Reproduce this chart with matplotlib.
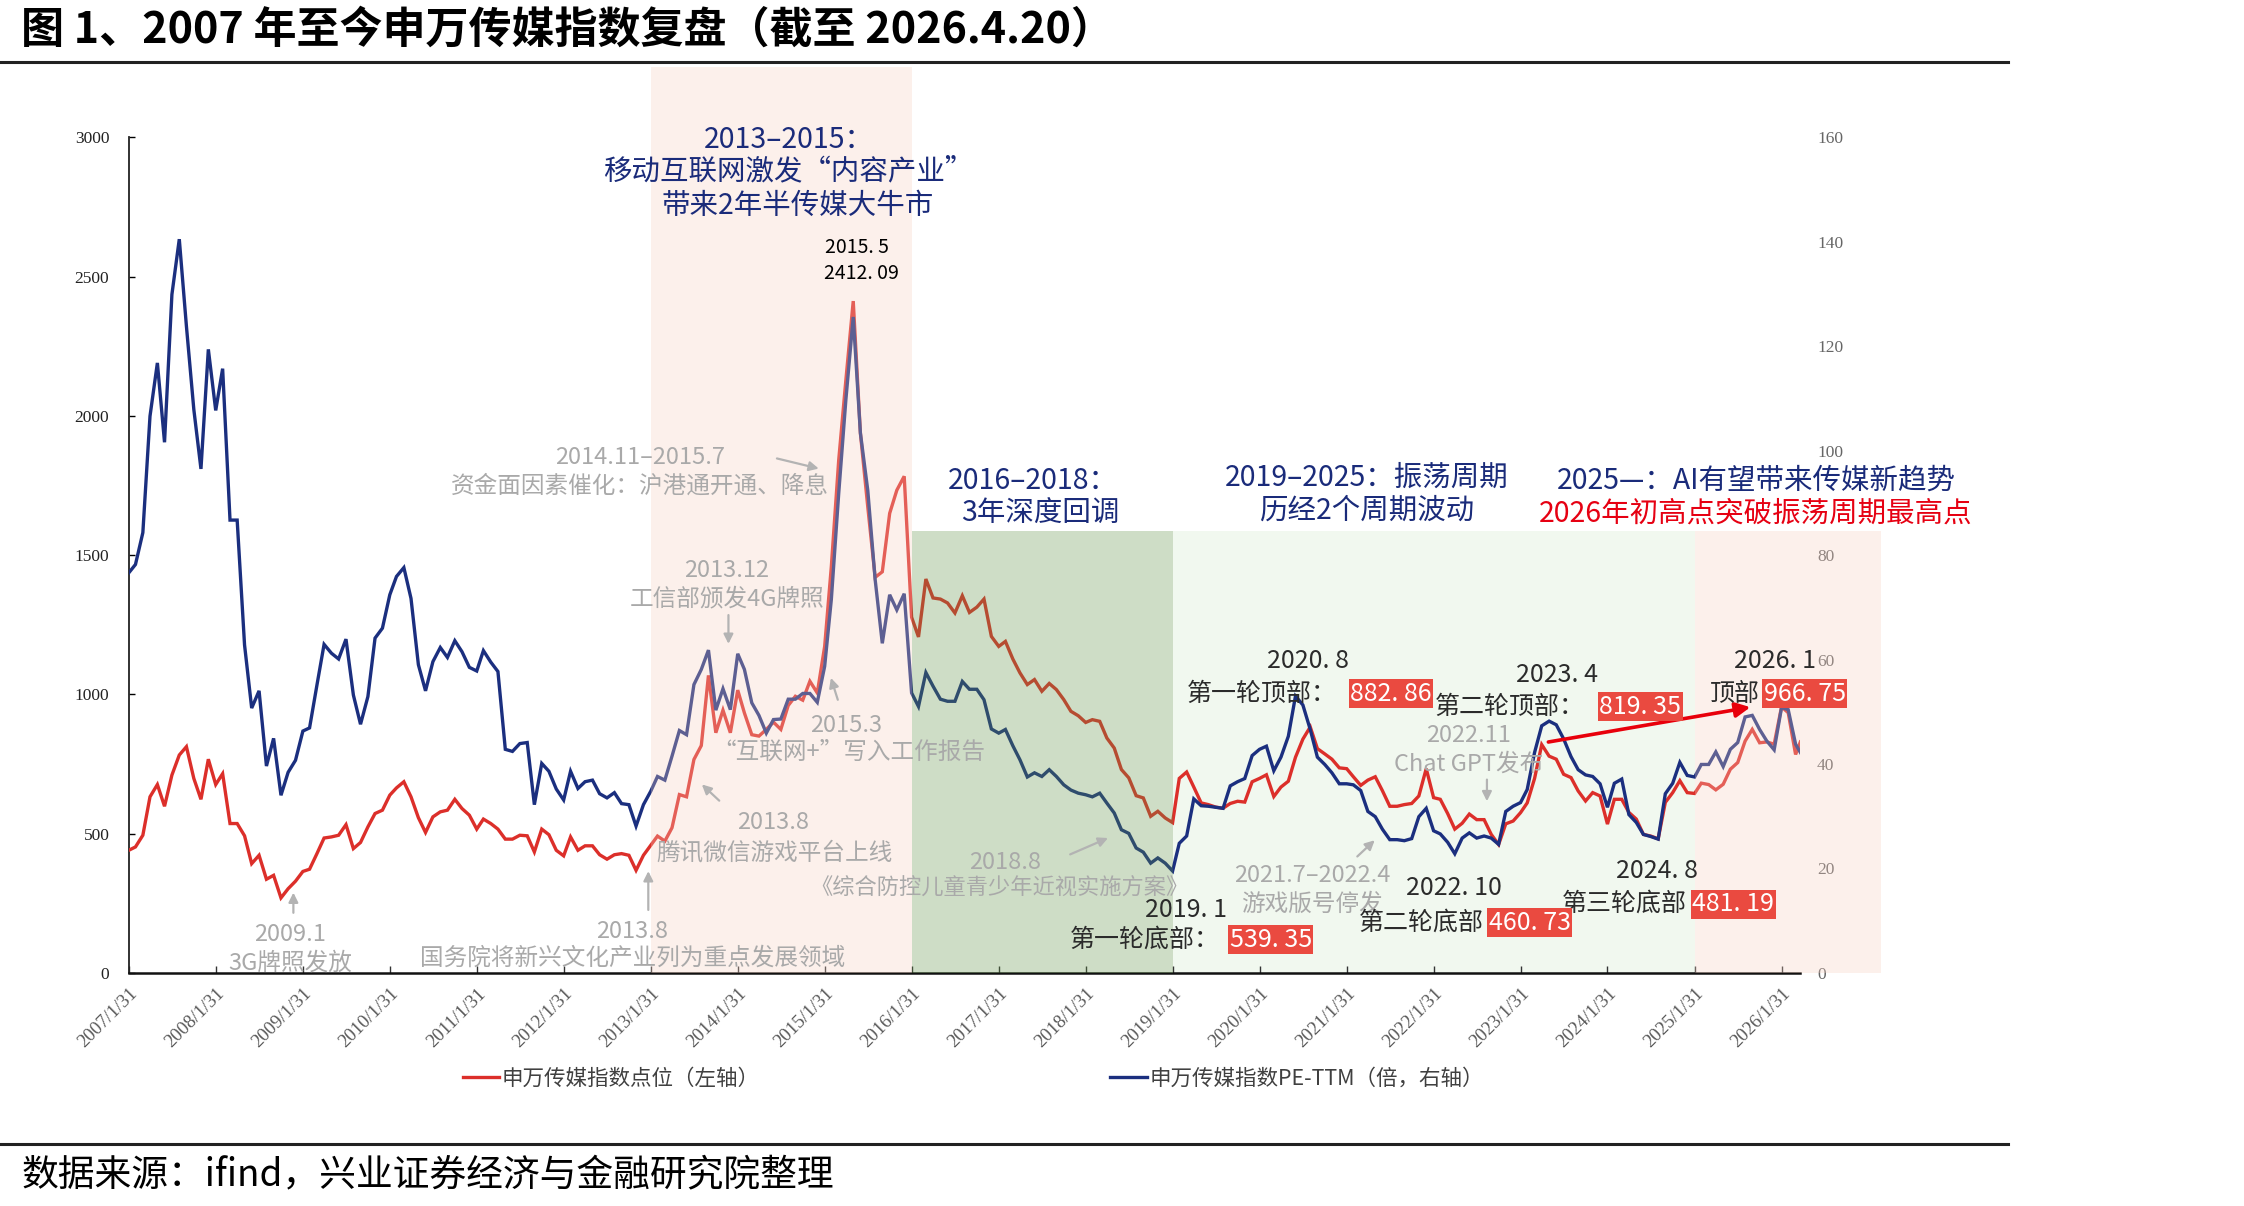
import matplotlib
matplotlib.use('Agg')
import matplotlib.pyplot as plt
import pandas as pd

plt.rcParams['font.family'] = ['Noto Sans CJK SC', 'DejaVu Sans']
plt.rcParams['axes.unicode_minus'] = False

# ---------------- data (monthly, 2007/1 - 2026/4) ----------------
index_points = [
    440, 452, 494, 632, 676, 598, 710, 782, 812, 698, 623, 767,
    676, 715, 536, 536, 492, 392, 422, 336, 350, 269, 302, 329,
    364, 372, 428, 484, 488, 494, 532, 446, 468, 524, 572, 584,
    638, 664, 686, 632, 557, 504, 560, 578, 584, 623, 590, 566,
    516, 552, 536, 516, 480, 480, 494, 492, 434, 516, 496, 440,
    420, 488, 440, 456, 456, 424, 408, 424, 428, 422, 368, 422,
    458, 491, 473, 521, 640, 632, 766, 816, 1068, 862, 943, 862,
    1015, 933, 855, 850, 874, 900, 874, 960, 993, 979, 1047, 1005,
    1172, 1459, 1841, 2128, 2412.09, 1938, 1673, 1420, 1440, 1650, 1733, 1783,
    1277, 1206, 1414, 1346, 1342, 1328, 1292, 1354, 1294, 1313, 1342, 1208,
    1172, 1190, 1127, 1077, 1035, 1053, 1011, 1039, 1017, 981, 939, 923,
    899, 909, 903, 843, 807, 730, 700, 636, 628, 562, 580, 556,
    539.35, 698, 721, 667, 610, 604, 595, 591, 608, 616, 613, 686,
    698, 711, 633, 667, 688, 774, 839, 882.86, 805, 786, 767, 736,
    733, 704, 673, 692, 704, 654, 598, 598, 604, 608, 635, 733,
    629, 623, 572, 516, 537, 570, 550, 550, 497, 460.73, 535, 545,
    575, 610, 698, 819.35, 778, 767, 713, 701, 653, 617, 647, 635,
    534, 623, 623, 576, 552, 497, 491, 481.19, 612, 647, 690, 647,
    644, 681, 676, 657, 677, 731, 755, 832, 874, 826, 829, 821,
    955, 934, 784, 829,
]
pe_ttm = [
    76.6, 78.2, 84.3, 106.6, 116.8, 101.6, 129.9, 140.5, 123.8, 107.9, 96.5, 119.4,
    107.7, 115.7, 86.7, 86.7, 62.8, 50.7, 54.0, 39.6, 44.9, 34.0, 38.4, 40.7,
    46.3, 46.9, 55.1, 62.9, 61.2, 60.1, 63.9, 53.2, 47.6, 52.9, 64.1, 66.0,
    72.4, 75.9, 77.6, 71.7, 59.0, 54.0, 59.6, 62.3, 60.4, 63.6, 61.5, 58.5,
    57.8, 61.7, 59.5, 57.7, 42.8, 42.4, 43.9, 44.1, 32.2, 40.1, 38.6, 35.2,
    33.1, 38.6, 35.3, 36.6, 36.9, 34.3, 33.5, 34.5, 32.4, 32.2, 28.1, 32.2,
    34.8, 37.6, 36.9, 41.5, 46.4, 45.6, 55.2, 58.1, 61.8, 50.3, 54.4, 50.4,
    61.1, 58.1, 51.7, 49.3, 45.9, 48.5, 48.6, 52.4, 52.4, 53.5, 53.5, 51.8,
    58.7, 71.5, 91.8, 109.7, 125.6, 103.4, 92.4, 75.3, 63.1, 72.4, 69.5, 72.6,
    53.6, 51.0, 57.5, 54.9, 52.4, 52.0, 52.0, 55.8, 54.3, 54.3, 52.3, 46.7,
    45.9, 46.6, 43.5, 40.8, 37.5, 38.3, 37.6, 38.9, 37.6, 36.0, 35.0, 34.4,
    34.1, 33.7, 34.4, 32.5, 30.6, 27.4, 26.7, 23.9, 23.1, 21.0, 22.0, 21.0,
    19.5, 24.8, 26.2, 33.3, 32.0, 31.9, 31.7, 31.5, 35.8, 36.6, 37.2, 41.6,
    42.8, 43.4, 38.7, 41.3, 45.3, 53.0, 51.3, 46.6, 41.3, 39.9, 38.3, 36.2,
    36.2, 36.0, 34.9, 30.9, 29.9, 27.5, 25.5, 25.5, 25.3, 25.7, 29.9, 31.5,
    27.2, 26.6, 25.0, 22.8, 25.8, 26.8, 25.8, 26.2, 25.8, 24.6, 30.9, 31.9,
    32.6, 35.1, 42.2, 47.3, 48.2, 47.5, 44.8, 41.4, 38.9, 37.9, 37.6, 36.2,
    31.7, 36.3, 37.1, 30.3, 28.8, 26.5, 26.1, 25.6, 34.3, 36.3, 40.3, 37.8,
    37.5, 39.9, 39.9, 42.3, 39.5, 42.8, 44.1, 49.0, 49.3, 46.6, 44.4, 42.7,
    50.8, 50.4, 43.8, 42.2,
]
start_date = '2007-01-31'
end_date = '2026-04-20'
dates = pd.date_range(start_date, periods=len(index_points), freq=pd.offsets.MonthEnd())
dates = dates[:-1].append(pd.DatetimeIndex([end_date]))

tick_years = list(range(2007, 2027))
tick_dates = [pd.Timestamp(f'{y}-01-31') for y in tick_years]
tick_labels = [f'{y}/1/31' for y in tick_years]
left_ticks = [0, 500, 1000, 1500, 2000, 2500, 3000]
right_ticks = [0, 20, 40, 60, 80, 100, 120, 140, 160]

label_red = '申万传媒指数点位（左轴）'
label_blue = '申万传媒指数PE-TTM（倍，右轴）'

# ---------------- style ----------------
RED = '#dc2f2a'
NAVY = '#1b2f7f'
TNAVY = '#1a2b7a'
GRAY = '#a9a9a9'
DARK = '#2b2b2b'
BOXRED = '#ea4a40'

W, H = 1568.0, 843.0
def F(x, y):
    return (x / W, 1 - y / H)

fig = plt.figure(figsize=(22.44, 12.06), dpi=100)
ax = fig.add_axes([90 / W, 1 - 680 / H, (1258 - 90) / W, (680 - 96) / H])
ax.patch.set_alpha(0)
ax2 = ax.twinx()
ax2.patch.set_alpha(0)

l1, = ax.plot(dates, index_points, color=RED, lw=2.4, zorder=3, solid_joinstyle='miter')
l2, = ax2.plot(dates, pe_ttm, color=NAVY, lw=2.4, zorder=3, solid_joinstyle='miter')

ax.set_xlim(pd.Timestamp(start_date), pd.Timestamp(end_date))
ax.set_ylim(0, 3000)
ax2.set_ylim(0, 160)

# shaded periods
band_top_low = (680 - 371) / 584.0
band_top_high = (680 - 47) / 584.0
ax.axvspan(pd.Timestamp('2019-01-31'), pd.Timestamp('2025-01-31'), ymin=0, ymax=band_top_low,
           color='#f1f8ef', lw=0, zorder=0)
ax2.axvspan(pd.Timestamp('2013-01-31'), pd.Timestamp('2016-01-31'), ymin=0, ymax=band_top_high,
            color='#f8d0c0', alpha=0.3, lw=0, zorder=5, clip_on=False)
ax2.axvspan(pd.Timestamp('2016-01-31'), pd.Timestamp('2019-01-31'), ymin=0, ymax=band_top_low,
            color='#5f9144', alpha=0.3, lw=0, zorder=5)
ax2.axvspan(pd.Timestamp('2025-01-31'), pd.Timestamp('2027-03-25'), ymin=0, ymax=band_top_low,
            color='#f8d0c0', alpha=0.3, lw=0, zorder=5, clip_on=False)

# axes styling
for a in (ax, ax2):
    a.spines['top'].set_visible(False)
    a.spines['right'].set_visible(False)
ax2.spines['left'].set_visible(False)
ax2.spines['bottom'].set_visible(False)
ax.spines['left'].set_color('#222222')
ax.spines['left'].set_linewidth(1.3)
ax.spines['bottom'].set_color('#111111')
ax.spines['bottom'].set_linewidth(1.8)
ax.spines['bottom'].set_zorder(6)

ax.set_xticks(tick_dates)
ax.set_xticklabels(tick_labels, rotation=45, ha='right', va='top', rotation_mode='anchor',
                   fontsize=13.5, family='Liberation Serif', color='#595959')
ax.tick_params(axis='x', direction='in', length=5, width=1, pad=9, color='#333333')
ax.set_yticks(left_ticks)
ax.set_yticklabels([str(v) for v in left_ticks], fontsize=12.5, family='Liberation Serif', color='#222222')
ax.tick_params(axis='y', direction='in', length=4, width=1, pad=14)
ax2.set_yticks(right_ticks)
ax2.set_yticklabels([str(v) for v in right_ticks], fontsize=12.5, family='Liberation Serif', color='#666666')
ax2.tick_params(axis='y', length=0, pad=12)

# legend
ax.legend([l1, l2], [label_red, label_blue], loc='center', bbox_to_anchor=F(680, 754),
          bbox_transform=fig.transFigure, ncol=2, frameon=False, handlelength=1.7,
          handletextpad=0.1, columnspacing=16.3, fontsize=15.5, labelcolor='#404040')

# ---------------- title / footer ----------------
fig.text(*F(15, 21), '图 1、2007 年至今申万传媒指数复盘（截至 2026.4.20）', fontsize=31,
         fontweight='bold', color='black', ha='left', va='center')
fig.add_artist(plt.Line2D([0, 1403 / W], [1 - 43 / H] * 2, color='#222222', lw=2.2, transform=fig.transFigure))
fig.add_artist(plt.Line2D([0, 1403 / W], [1 - 800 / H] * 2, color='#222222', lw=2.2, transform=fig.transFigure))
fig.text(*F(15, 821), '数据来源：ifind，兴业证券经济与金融研究院整理', fontsize=26.5,
         color='black', ha='left', va='center')

# ---------------- annotations ----------------
def t(x, y, s, color=DARK, size=17, **kw):
    fig.text(*F(x, y), s, color=color, fontsize=size, ha=kw.pop('ha', 'center'), va='center', zorder=10, **kw)

def box(x, y, s, size=18):
    fig.text(*F(x, y), s, color='white', fontsize=size, ha='center', va='center', zorder=11,
             bbox=dict(boxstyle='square,pad=0.06', fc=BOXRED, ec='none'))

def arrow(x0, y0, x1, y1, color='#b3b3b3', lw=1.6, ms=14):
    fig.add_artist(matplotlib.patches.FancyArrowPatch(F(x0, y0), F(x1, y1), transform=fig.transFigure,
                   arrowstyle='-|>', mutation_scale=ms, color=color, lw=lw, zorder=9))

# phase titles
t(551, 98, '2013–2015：', TNAVY, 20.5)
t(551, 120, '移动互联网激发“内容产业”', TNAVY, 20.5)
t(557, 144, '带来2年半传媒大牛市', TNAVY, 20.5)
t(722, 336, '2016–2018：', TNAVY, 20.5)
t(727, 359, '3年深度回调', TNAVY, 20.5)
t(955, 334, '2019–2025：振荡周期', TNAVY, 20.5)
t(955, 357, '历经2个周期波动', TNAVY, 20.5)
t(1227, 336, '2025—：AI有望带来传媒新趋势', TNAVY, 20.5)
t(1227, 359, '2026年初高点突破振荡周期最高点', '#e60012', 20.5)

# peak
t(599, 173, '2015. 5', 'black', 14)
t(602, 191, '2412. 09', 'black', 14)

# gray events
t(447, 320, '2014.11–2015.7', GRAY, 17)
t(447, 340, '资金面因素催化：沪港通开通、降息', GRAY, 17)
arrow(541, 320, 574, 328)
t(508, 399, '2013.12', GRAY, 17)
t(508, 419, '工信部颁发4G牌照', GRAY, 17)
arrow(509, 428, 509, 452)
t(591, 507, '2015.3', GRAY, 17)
t(593, 526, '“互联网+”写入工作报告', GRAY, 17)
arrow(586, 491, 580, 472)
t(540, 575, '2013.8', GRAY, 17)
t(541, 596, '腾讯微信游戏平台上线', GRAY, 17)
arrow(504, 561, 489, 547)
t(702, 603, '2018.8', GRAY, 17)
t(698, 621, '《综合防控儿童青少年近视实施方案》', GRAY, 16)
arrow(746, 598, 776, 585)
t(203, 653, '2009.1', GRAY, 17)
t(203, 673, '3G牌照发放', GRAY, 17)
arrow(205, 640, 205, 622)
t(442, 651, '2013.8', GRAY, 17)
t(442, 670, '国务院将新兴文化产业列为重点发展领域', GRAY, 17)
arrow(453, 638, 453, 607)
t(1026, 514, '2022.11', GRAY, 17)
t(1026, 534, 'Chat GPT发布', GRAY, 17)
arrow(1039, 543, 1039, 562)
t(917, 612, '2021.7–2022.4', GRAY, 17)
t(917, 632, '游戏版号停发', GRAY, 17)
arrow(947, 600, 962, 586)

# cycle tops / bottoms
t(914, 462, '2020. 8', DARK, 18)
t(882, 485, '第一轮顶部：', DARK, 18)
box(972, 485, '882. 86')
t(1088, 472, '2023. 4', DARK, 18)
t(1055, 494, '第二轮顶部：', DARK, 18)
box(1146, 494, '819. 35')
t(1240, 462, '2026. 1', DARK, 18)
t(1212, 485, '顶部', DARK, 18)
box(1261, 485, '966. 75')
t(829, 636, '2019. 1', DARK, 18)
t(800, 657, '第一轮底部：', DARK, 18)
box(888, 657, '539. 35')
t(1016, 621, '2022. 10', DARK, 18)
t(993, 645, '第二轮底部', DARK, 18)
box(1069, 645, '460. 73')
t(1158, 609, '2024. 8', DARK, 18)
t(1135, 632, '第三轮底部', DARK, 18)
box(1211, 632, '481. 19')

arrow(1080, 519, 1225, 494, color='#e8000b', lw=2.6, ms=22)

fig.savefig('out.png', dpi=100)
